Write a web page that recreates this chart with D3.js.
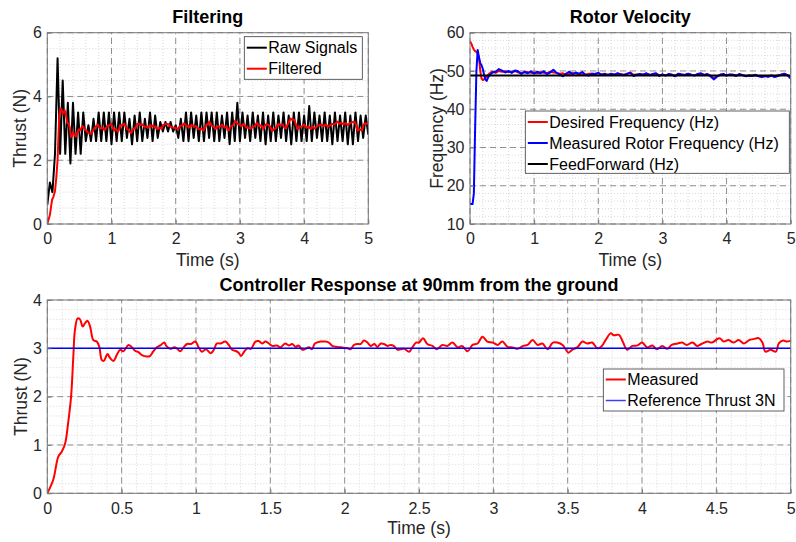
<!DOCTYPE html>
<html>
<head>
<meta charset="utf-8">
<script src="https://cdn.jsdelivr.net/npm/d3@7"></script>
<style>
  html, body { margin: 0; padding: 0; background: #fff; }
  svg { display: block; font-family: "Liberation Sans", Arial, Helvetica, sans-serif; }
</style>
</head>
<body>
<svg id="chart" width="796" height="542"></svg>
<script>
// ---- Filtering panel: raw thrust samples (every 0.04 s from 0 to 5 s) ----
const rawStep = 0.04;
const rawThrust = [
  0.6,1.3,1.0,2.2,5.2,2.2,4.5,2.2,3.8,1.9,
  3.8,2.2,3.5,2.2,3.5,2.6,3.1,2.6,3.3,2.6,
  3.5,2.6,3.5,2.6,3.5,2.5,3.5,2.6,3.5,2.6,
  3.5,2.7,3.3,2.5,3.4,2.6,3.5,2.6,3.3,2.7,
  3.5,2.6,3.4,2.7,3.2,2.9,3.2,2.9,3.2,2.9,
  3.1,2.7,3.3,2.6,3.5,2.6,3.5,2.7,3.4,2.6,
  3.5,2.6,3.5,2.7,3.5,2.6,3.5,2.6,3.4,2.7,
  3.5,2.5,3.5,2.6,3.8,2.6,3.5,2.7,3.4,2.6,
  3.5,2.7,3.4,2.6,3.5,2.5,3.4,2.6,3.5,2.6,
  3.4,2.7,3.5,2.6,3.4,2.5,3.5,2.6,3.5,2.6,
  3.4,2.6,3.7,2.6,3.5,2.7,3.4,2.6,3.5,2.6,
  3.4,2.5,3.5,2.6,3.4,2.6,3.5,2.5,3.4,2.5,
  3.5,2.6,3.4,2.7,3.4,2.8
];

// ---- Filtered / measured thrust (s, N) ----
const thrustTime = [
  0,0.04,0.074,0.097,0.12,0.14,0.16,0.175,0.186,0.204,
  0.22,0.238,0.254,0.27,0.288,0.31,0.333,0.35,0.366,0.38,
  0.405,0.42,0.445,0.467,0.49,0.512,0.546,0.569,0.59,0.613,
  0.636,0.67,0.69,0.714,0.737,0.76,0.787,0.8,0.827,0.854,
  0.87,0.894,0.917,0.94,0.966,0.996,1.018,1.04,1.067,1.1,
  1.12,1.14,1.164,1.198,1.22,1.243,1.265,1.287,1.303,1.326,
  1.348,1.37,1.4,1.422,1.445,1.467,1.49,1.512,1.546,1.568,
  1.6,1.625,1.647,1.67,1.69,1.714,1.737,1.76,1.78,1.8,
  1.84,1.87,1.894,1.917,1.95,1.98,2.02,2.04,2.063,2.085,
  2.108,2.13,2.153,2.175,2.2,2.22,2.243,2.265,2.287,2.31,
  2.33,2.355,2.377,2.4,2.434,2.456,2.48,2.5,2.527,2.556,
  2.59,2.62,2.657,2.69,2.725,2.76,2.79,2.826,2.86,2.894,
  2.927,2.96,2.995,3.03,3.06,3.096,3.13,3.164,3.2,3.23,
  3.264,3.298,3.33,3.365,3.4,3.43,3.466,3.505,3.53,3.564,
  3.6,3.63,3.665,3.7,3.73,3.755,3.79,3.81,3.845,3.87,
  3.9,3.935,3.97,4.0,4.035,4.07,4.1,4.136,4.17,4.2,
  4.24,4.27,4.3,4.34,4.37,4.4,4.44,4.47,4.52,4.55,
  4.58,4.617,4.65,4.685,4.72,4.75,4.785,4.81,4.83,4.865,
  4.9,4.92,4.95,4.975,5.0
];
const thrustMeasured = [
  0,0.28,0.76,0.86,1.03,1.45,2.0,2.83,3.38,3.62,
  3.6,3.45,3.52,3.57,3.45,3.17,3.14,3.03,2.76,2.74,
  2.88,2.81,2.74,2.86,2.97,2.94,3.07,3.02,2.95,2.92,
  2.86,2.83,2.84,2.94,3.02,3.06,3.12,3.05,2.99,3.02,
  3.0,2.94,3.02,3.09,3.09,3.14,3.02,2.93,2.98,2.9,
  2.97,3.1,3.1,3.14,3.07,2.97,2.95,2.91,2.84,2.94,
  3.0,2.99,3.14,3.15,3.1,3.14,3.1,3.05,3.06,3.02,
  3.1,3.06,3.09,3.03,3.06,2.97,2.99,3.02,2.98,3.1,
  3.14,3.14,3.12,3.05,3.03,3.02,3.0,2.98,3.07,3.09,
  3.09,3.16,3.12,3.05,3.09,3.03,3.1,3.09,3.05,3.07,
  3.05,2.97,2.98,2.99,2.93,3.02,3.12,3.12,3.21,3.09,
  3.05,2.98,3.07,3.05,3.12,3.02,3.05,2.94,3.07,3.1,
  3.24,3.14,3.12,3.07,3.14,3.03,3.02,2.99,3.05,3.07,
  3.17,3.07,3.1,2.98,3.12,3.12,3.07,2.91,2.97,3.02,
  3.14,3.1,3.12,3.0,3.05,3.17,3.31,3.27,3.28,3.14,
  2.97,3.05,3.06,3.12,3.02,3.06,2.98,3.05,2.99,3.07,
  3.1,3.12,3.07,3.12,3.05,3.09,3.14,3.12,3.21,3.14,
  3.17,3.12,3.17,3.1,3.17,3.19,3.21,3.12,2.93,2.97,
  2.93,3.1,3.16,3.14,3.16
];
const referenceThrust = 3;

// ---- Rotor velocity (Hz) ----
// start-up transient at irregular times, then a steady run sampled every 0.05 s from 0.40 s
const rotorStartTime = [0,0.02,0.04,0.06,0.08,0.10,0.12,0.14,0.16,0.18,0.20,0.22,0.24,0.26,0.28,0.30,0.35];
const desiredStart  = [57.8,57.2,56.3,55.6,55.2,55.0,54.5,53.5,50.0,48.0,47.6,47.8,48.3,48.5,48.9,49.3,49.8];
const measuredStart = [15.2,15.2,15.2,18.0,35.0,50.0,55.5,53.5,52.0,51.5,50.5,49.0,47.8,47.4,48.2,48.8,49.6];
const steadyStart = 0.40, steadyStep = 0.05;
const desiredSteady = [
  49.5,50.0,49.8,49.9,49.7,49.8,50.0,49.6,49.5,49.6,
  49.7,49.5,49.6,49.4,49.7,49.5,49.4,49.8,49.6,49.5,
  49.3,49.4,48.9,49.2,49.5,49.3,49.2,49.1,49.0,49.3,
  49.3,49.2,49.4,49.1,49.3,49.0,49.2,49.1,49.3,49.2,
  49.0,49.2,49.6,49.0,49.1,49.1,49.1,49.3,49.0,49.1,
  49.3,48.9,49.0,48.9,49.1,49.0,48.8,49.2,49.0,49.0,
  49.2,49.0,48.9,49.1,49.3,49.0,49.1,48.8,48.1,48.6,
  49.0,49.1,48.9,49.0,49.0,48.8,49.1,48.9,48.7,48.8,
  48.8,48.9,48.7,48.6,48.7,48.6,48.8,48.6,48.8,49.0,
  49.2,48.9,48.3
];
const measuredSteady = [
  49.8,50.5,50.1,49.6,50.0,49.5,50.1,49.9,49.2,49.8,
  49.4,49.9,49.3,49.8,49.4,49.9,49.2,49.6,50.3,49.5,
  49.1,48.6,49.3,49.8,49.1,49.6,49.3,49.7,49.0,48.8,
  49.3,49.2,49.5,49.0,49.2,48.9,49.3,49.0,49.4,49.1,
  48.9,49.3,49.5,48.7,49.0,49.2,49.0,49.4,48.9,49.2,
  49.4,48.7,49.1,48.8,49.2,49.0,48.6,49.3,49.1,48.9,
  49.3,49.0,48.8,49.2,49.4,48.9,49.2,48.6,47.8,48.5,
  49.0,49.2,48.8,49.1,49.0,48.7,49.2,48.9,48.6,48.8,
  48.7,49.0,48.6,48.4,48.7,48.5,48.8,48.4,48.7,49.0,
  49.3,48.9,48.0
];
const feedForwardHz = 48.8;

// ---- Axis ticks ----
const timeTicksTop = [0,1,2,3,4,5];
const timeTicksBottom = [0,0.5,1,1.5,2,2.5,3,3.5,4,4.5,5];
const thrustTicksTop = [0,2,4,6];
const freqTicks = [10,20,30,40,50,60];
const thrustTicksBottom = [0,1,2,3,4];

// ---------------------------------------------------------------
const svg = d3.select("#chart");
const RED = "#ff0000", BLUE = "#0000ff", BLACK = "#000000";

function toPoints(xs, ys) {
  const n = Math.min(xs.length, ys.length);
  return d3.range(n).map(i => [xs[i], ys[i]]);
}
const rawPts = rawThrust.map((v, i) => [i * rawStep, v]);
const thrustPts = toPoints(thrustTime, thrustMeasured);
const steadyTime = desiredSteady.map((_, i) => steadyStart + i * steadyStep);
const desiredPts = toPoints(rotorStartTime.concat(steadyTime), desiredStart.concat(desiredSteady));
const measuredTimeAll = rotorStartTime.concat(measuredSteady.map((_, i) => steadyStart + i * steadyStep));
const measuredPts = toPoints(measuredTimeAll, measuredStart.concat(measuredSteady));

function minorRange(lo, hi, step) {
  const out = [];
  const n = Math.round((hi - lo) / step);
  for (let i = 0; i <= n; i++) out.push(+(lo + i * step).toFixed(6));
  return out;
}

// Draws grid, frame, tick labels, title and axis labels for one panel
function panel(cfg) {
  const { x, y } = cfg;
  const g = svg.append("g");
  const [x0, x1] = x.range();
  const [y0, y1] = y.range();
  const clipId = "clip" + Math.round(x0) + "_" + Math.round(y1);

  g.append("rect").attr("x", x0).attr("y", y1).attr("width", x1 - x0).attr("height", y0 - y1)
    .attr("fill", "#fff");

  svg.append("clipPath").attr("id", clipId).append("rect")
    .attr("x", x0).attr("y", y1).attr("width", x1 - x0).attr("height", y0 - y1);

  const grid = g.append("g");
  // minor grid (dotted)
  grid.selectAll(".mx").data(cfg.minorX).join("line")
    .attr("x1", d => x(d)).attr("x2", d => x(d)).attr("y1", y0).attr("y2", y1)
    .attr("stroke", "#cfcfcf").attr("stroke-width", 0.8).attr("stroke-dasharray", "1,2");
  grid.selectAll(".my").data(cfg.minorY).join("line")
    .attr("y1", d => y(d)).attr("y2", d => y(d)).attr("x1", x0).attr("x2", x1)
    .attr("stroke", "#cfcfcf").attr("stroke-width", 0.8).attr("stroke-dasharray", "1,2");
  // major grid (dashed)
  grid.selectAll(".gx").data(cfg.ticksX).join("line")
    .attr("x1", d => x(d)).attr("x2", d => x(d)).attr("y1", y0).attr("y2", y1)
    .attr("stroke", "#8f8f8f").attr("stroke-width", 1).attr("stroke-dasharray", "6,4");
  grid.selectAll(".gy").data(cfg.ticksY).join("line")
    .attr("y1", d => y(d)).attr("y2", d => y(d)).attr("x1", x0).attr("x2", x1)
    .attr("stroke", "#8f8f8f").attr("stroke-width", 1).attr("stroke-dasharray", "6,4");

  const plot = svg.append("g").attr("clip-path", `url(#${clipId})`);

  const frame = () => {
    const fg = svg.append("g");
    fg.append("rect").attr("x", x0).attr("y", y1).attr("width", x1 - x0).attr("height", y0 - y1)
      .attr("fill", "none").attr("stroke", "#7a7a7a").attr("stroke-width", 1);

    const xa = fg.append("g").attr("transform", `translate(0,${y0})`)
      .call(d3.axisBottom(x).tickValues(cfg.ticksX).tickFormat(d3.format("~g"))
        .tickSizeInner(-4).tickSizeOuter(0).tickPadding(9));
    const ya = fg.append("g").attr("transform", `translate(${x0},0)`)
      .call(d3.axisLeft(y).tickValues(cfg.ticksY).tickFormat(d3.format("~g"))
        .tickSizeInner(-4).tickSizeOuter(0).tickPadding(5.5));
    [xa, ya].forEach(a => {
      a.select(".domain").remove();
      a.selectAll("line").attr("stroke", "#7a7a7a");
      a.selectAll("text").attr("font-size", 16).attr("fill", "#262626")
        .attr("font-family", "'Liberation Sans', Arial, sans-serif");
    });

    fg.append("text").attr("x", (x0 + x1) / 2).attr("y", cfg.titleY)
      .attr("text-anchor", "middle").attr("font-weight", "bold").attr("font-size", 18)
      .attr("fill", "#000").text(cfg.title);
    fg.append("text").attr("x", (x0 + x1) / 2).attr("y", cfg.xLabelY)
      .attr("text-anchor", "middle").attr("font-size", 17.5).attr("fill", "#262626")
      .text(cfg.xLabel);
    fg.append("text")
      .attr("transform", `translate(${cfg.yLabelX},${(y0 + y1) / 2}) rotate(-90)`)
      .attr("text-anchor", "middle").attr("font-size", 17.5).attr("fill", "#262626")
      .text(cfg.yLabel);
    return fg;
  };
  return { plot, frame };
}

function legend(box, items) {
  const lg = svg.append("g");
  lg.append("rect").attr("x", box.x).attr("y", box.y).attr("width", box.w).attr("height", box.h)
    .attr("fill", "#fff").attr("stroke", "#3a3a3a").attr("stroke-width", 0.8);
  items.forEach((it, i) => {
    const cy = box.y + box.first + i * box.gap;
    lg.append("line").attr("x1", box.x + 2.5).attr("x2", box.x + 22.5).attr("y1", cy).attr("y2", cy)
      .attr("stroke", it.color).attr("stroke-width", it.width || 2);
    lg.append("text").attr("x", box.x + 24).attr("y", cy).attr("dy", "0.36em")
      .attr("font-size", 16).attr("fill", "#000").text(it.label);
  });
}

// ---------------- Panel 1: Filtering ----------------
{
  const x = d3.scaleLinear().domain([0, 5]).range([47.3, 368.3]);
  const y = d3.scaleLinear().domain([0, 6]).range([224, 32.7]);
  const p = panel({
    x, y, ticksX: timeTicksTop, ticksY: thrustTicksTop,
    minorX: minorRange(0, 5, 0.2), minorY: minorRange(0, 6, 0.5),
    title: "Filtering", titleY: 23, xLabel: "Time (s)", xLabelY: 266,
    yLabel: "Thrust (N)", yLabelX: 26
  });
  const line = d3.line().x(d => x(d[0])).y(d => y(d[1]));
  p.plot.append("path").datum(rawPts).attr("d", line)
    .attr("fill", "none").attr("stroke", BLACK).attr("stroke-width", 2).attr("stroke-linejoin", "round");
  p.plot.append("path").datum(thrustPts).attr("d", line)
    .attr("fill", "none").attr("stroke", RED).attr("stroke-width", 2).attr("stroke-linejoin", "round");
  p.frame();
  legend({ x: 244.3, y: 36.7, w: 118, h: 42.6, first: 11, gap: 21 }, [
    { label: "Raw Signals", color: BLACK },
    { label: "Filtered", color: RED }
  ]);
}

// ---------------- Panel 2: Rotor Velocity ----------------
{
  const x = d3.scaleLinear().domain([0, 5]).range([470, 790.7]);
  const y = d3.scaleLinear().domain([10, 60]).range([224, 32.7]);
  const p = panel({
    x, y, ticksX: timeTicksTop, ticksY: freqTicks,
    minorX: minorRange(0, 5, 0.2), minorY: minorRange(10, 60, 2),
    title: "Rotor Velocity", titleY: 23, xLabel: "Time (s)", xLabelY: 266,
    yLabel: "Frequency (Hz)", yLabelX: 443
  });
  const line = d3.line().x(d => x(d[0])).y(d => y(d[1]));
  p.plot.append("path").datum(desiredPts).attr("d", line)
    .attr("fill", "none").attr("stroke", RED).attr("stroke-width", 2).attr("stroke-linejoin", "round");
  p.plot.append("path").datum(measuredPts).attr("d", line)
    .attr("fill", "none").attr("stroke", BLUE).attr("stroke-width", 2).attr("stroke-linejoin", "round");
  p.plot.append("line").attr("x1", x(0)).attr("x2", x(5))
    .attr("y1", y(feedForwardHz)).attr("y2", y(feedForwardHz))
    .attr("stroke", BLACK).attr("stroke-width", 2);
  p.frame();
  legend({ x: 525.3, y: 111, w: 264, h: 62.3, first: 11, gap: 21 }, [
    { label: "Desired Frequency (Hz)", color: RED },
    { label: "Measured Rotor Frequency (Hz)", color: BLUE },
    { label: "FeedForward (Hz)", color: BLACK }
  ]);
}

// ---------------- Panel 3: Controller Response ----------------
{
  const x = d3.scaleLinear().domain([0, 5]).range([47.3, 790.7]);
  const y = d3.scaleLinear().domain([0, 4]).range([493.3, 300]);
  const p = panel({
    x, y, ticksX: timeTicksBottom, ticksY: thrustTicksBottom,
    minorX: minorRange(0, 5, 0.1), minorY: minorRange(0, 4, 0.2),
    title: "Controller Response at 90mm from the ground", titleY: 291,
    xLabel: "Time (s)", xLabelY: 534, yLabel: "Thrust (N)", yLabelX: 27
  });
  const smooth = d3.line().curve(d3.curveCatmullRom.alpha(0.5)).x(d => x(d[0])).y(d => y(d[1]));
  p.plot.append("path").datum(thrustPts).attr("d", smooth)
    .attr("fill", "none").attr("stroke", RED).attr("stroke-width", 2).attr("stroke-linejoin", "round");
  p.plot.append("line").attr("x1", x(0)).attr("x2", x(5))
    .attr("y1", y(referenceThrust)).attr("y2", y(referenceThrust))
    .attr("stroke", BLUE).attr("stroke-width", 1.5);
  p.frame();
  legend({ x: 603.3, y: 369, w: 180.7, h: 42, first: 10.5, gap: 21 }, [
    { label: "Measured", color: RED },
    { label: "Reference Thrust 3N", color: "#3d3dff", width: 1.5 }
  ]);
}
</script>
</body>
</html>
